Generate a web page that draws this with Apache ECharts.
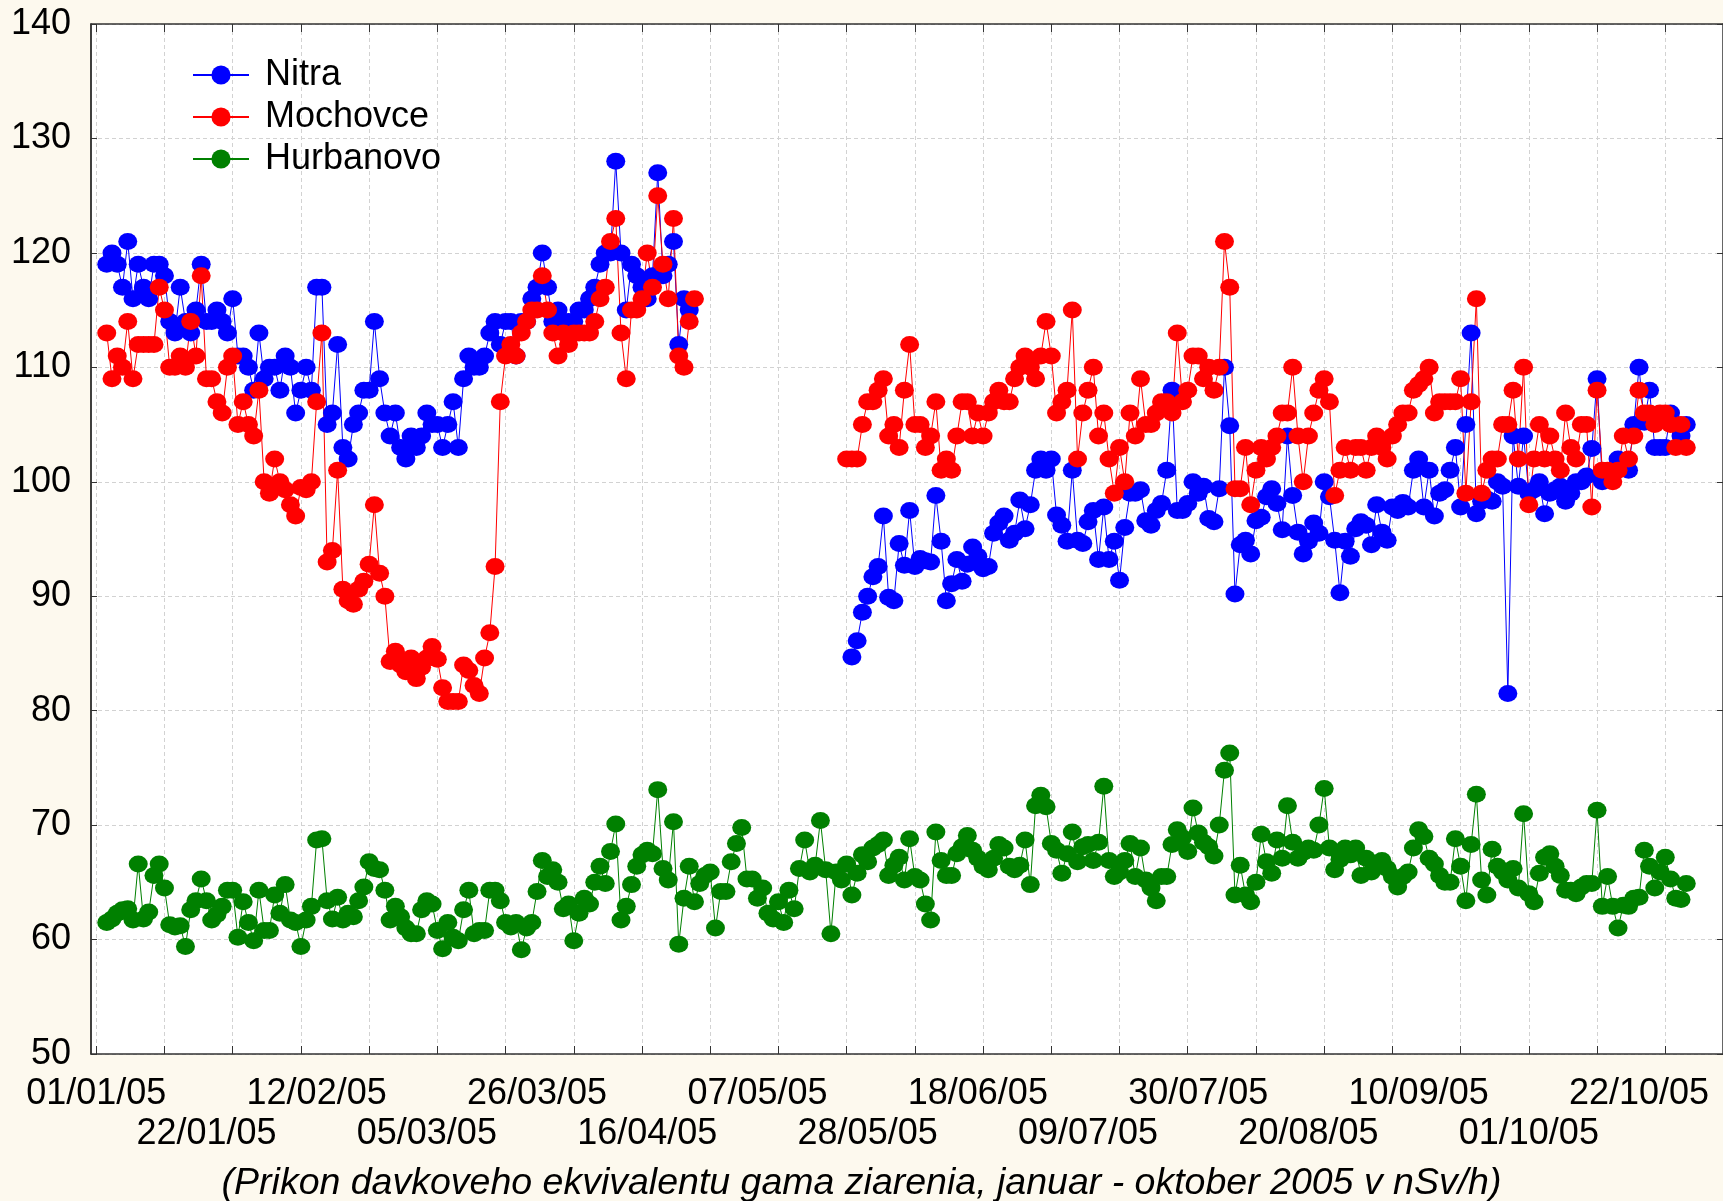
<!DOCTYPE html>
<html>
<head>
<meta charset="utf-8">
<title>Prikon davkoveho ekvivalentu</title>
<script src="https://cdn.jsdelivr.net/npm/echarts@6/dist/echarts.min.js"></script>
<style>
  html, body { margin: 0; padding: 0; background: #fdf9ee; }
  #chart { width: 1723px; height: 1201px; }
</style>
</head>
<body>
<div id="chart"></div>
<script>
// day 0 = 01/01/05, one value per day
const tickLabels = ['01/01/05', '22/01/05', '12/02/05', '05/03/05', '26/03/05', '16/04/05', '07/05/05',
  '28/05/05', '18/06/05', '09/07/05', '30/07/05', '20/08/05', '10/09/05', '01/10/05', '22/10/05']

const nitraStart1 = 2
const nitraPart1 = [
  119, 120, 119, 117, 121, 116, 119, 117, 116, 119,
  119, 118, 114, 113, 117, 114, 113, 115, 119, 114,
  114, 115, 114, 113, 116, 111, 111, 110, 108, 113,
  109, 110, 110, 108, 111, 110, 106, 108, 110, 108,
  117, 117, 105, 106, 112, 103, 102, 105, 106, 108,
  108, 114, 109, 106, 104, 106, 103, 102, 104, 103,
  104, 106, 105, 105, 103, 105, 107, 103, 109, 111,
  110, 110, 111, 113, 114, 112, 114, 114, 111, 114,
  114, 116, 117, 120, 117, 114, 115, 114, 114, 114,
  115, 115, 116, 117, 119, 120, 120, 128, 120, 115,
  119, 118, 117, 116, 118, 127, 118, 119, 121, 112,
  116, 115
]
const nitraStart2 = 144
const nitraPart2 = [
  84.7, 86.1, 88.6, 90, 91.7, 92.6, 97, 89.9, 89.6, 94.6,
  92.7, 97.5, 92.6, 93.3, 93.1, 93, 98.8, 94.8, 89.6, 91.1,
  93.2, 91.3, 92.8, 94.3, 93.5, 92.4, 92.6, 95.5, 96.4, 97,
  94.9, 95.5, 98.4, 95.9, 98, 101, 102, 101, 102, 97.1,
  96.2, 94.8, 101, 94.9, 94.6, 96.5, 97.5, 93.2, 97.8, 93.2,
  94.8, 91.4, 96, 99, 99, 99.3, 96.6, 96.2, 97.5, 98.1,
  101, 108, 97.5, 97.5, 98.1, 100, 99, 99.6, 96.8, 96.5,
  99.4, 110, 104.9, 90.2, 94.5, 94.9, 93.7, 96.6, 96.9, 98.7,
  99.4, 98.1, 95.8, 104, 98.8, 95.6, 93.7, 94.8, 96.4, 95.5,
  100, 98.7, 94.9, 90.3, 94.8, 93.5, 95.9, 96.5, 96.2, 94.5,
  98, 95.6, 94.9, 97.8, 97.5, 98.2, 97.8, 101, 102, 97.8,
  101, 97, 99, 99.3, 101, 103, 97.8, 105, 113, 97.2,
  98.3, 98.5, 98.3, 100, 99.6, 81.5, 104, 99.6, 104, 99,
  99.3, 100, 97.2, 99, 99.3, 99.6, 98.3, 99, 100, 100,
  100.5, 102.9, 109, 100, 100.5, 101, 102, 101.5, 101, 105,
  110, 105.2, 108, 103, 103, 103, 106, 105, 104, 105
]

const mochStart1 = 2
const mochPart1 = [
  113, 109, 111, 110, 114, 109, 112, 112, 112, 112,
  117, 115, 110, 110, 111, 110, 114, 111, 118, 109,
  109, 107, 106, 110, 111, 105, 107, 105, 104, 108,
  100, 99, 102, 100, 99.3, 98, 97, 99.5, 99.3, 100,
  107, 113, 93, 94, 101, 90.6, 89.6, 89.3, 90.6, 91.3,
  92.8, 98, 92, 90, 84.3, 85.2, 84, 83.4, 84.6, 82.8,
  83.8, 84.6, 85.6, 84.5, 82, 80.8, 80.8, 80.8, 84, 83.5,
  82.2, 81.5, 84.6, 86.8, 92.6, 107, 111, 112, 111, 113,
  114, 115, 115, 118, 115, 113, 111, 113, 112, 113,
  113, 113, 113, 114, 116, 117, 121, 123, 113, 109,
  115, 115, 116, 120, 117, 125, 119, 116, 123, 111,
  110, 114, 116
]
const mochStart2 = 143
const mochPart2 = [
  102, 102, 102, 105, 107, 107, 108, 109, 104, 105,
  103, 108, 112, 105, 105, 103, 104, 107, 101, 102,
  101, 104, 107, 107, 104, 106, 104, 106, 107, 108,
  107, 107, 109, 110, 111, 110, 109, 111, 114, 111,
  106, 107, 108, 115, 102, 106, 108, 110, 104, 106,
  102, 99, 103, 100, 106, 104, 109, 105, 105, 106,
  107, 107, 106, 113, 107, 108, 111, 111, 109, 110,
  108, 110, 121, 117, 99.4, 99.4, 103, 98, 101, 103,
  102, 103, 104, 106, 106, 110, 104, 100, 104, 106,
  108, 109, 107, 98.8, 101, 103, 101, 103, 103, 101,
  103, 104, 103, 102, 104, 105, 106, 106, 108, 108.5,
  109, 110, 106, 107, 107, 107, 107, 109, 99, 107,
  116, 99, 101, 102, 102, 105, 105, 108, 102, 110,
  98, 102, 105, 102, 104, 102, 101, 106, 103, 102,
  105, 105, 97.8, 108, 101, 101, 100, 101, 104, 102,
  104, 108, 106, 106, 105, 106, 106, 105, 103, 105,
  103
]

const hurbStart = 2
const hurbValues = [
  61.5, 61.8, 62.3, 62.6, 62.7, 61.7, 66.6, 61.8, 62.4, 65.6,
  66.6, 64.5, 61.3, 61.1, 61.2, 59.4, 62.6, 63.4, 65.3, 63.4,
  61.7, 62.2, 62.9, 64.3, 64.3, 60.2, 63.3, 61.5, 59.9, 64.3,
  60.8, 60.8, 63.9, 62.3, 64.8, 61.7, 61.5, 59.4, 61.7, 62.9,
  68.7, 68.8, 63.4, 61.8, 63.7, 61.7, 62.3, 62, 63.4, 64.6,
  66.8, 66.2, 66.1, 64.3, 61.7, 62.9, 62, 61, 60.5, 60.5,
  62.6, 63.4, 63.1, 60.8, 59.2, 61.5, 60.2, 59.9, 62.6, 64.3,
  60.5, 60.8, 60.8, 64.3, 64.3, 63.4, 61.5, 61.1, 61.5, 59.1,
  61, 61.5, 64.2, 66.9, 65.5, 66.1, 65, 62.7, 63.1, 59.9,
  62.3, 63.6, 63.1, 65, 66.4, 64.9, 67.7, 70.1, 61.7, 62.9,
  64.8, 66.4, 67.4, 67.8, 67.5, 73.1, 66.2, 65.2, 70.3, 59.6,
  63.6, 66.4, 63.3, 64.9, 65.6, 65.9, 61, 64.2, 64.2, 66.8,
  68.4, 69.8, 65.3, 65.3, 63.6, 64.5, 62.3, 61.8, 63.3, 61.5,
  64.3, 62.7, 66.2, 68.7, 65.9, 66.5, 70.4, 66.1, 60.5, 65.9,
  65.2, 66.6, 63.9, 65.8, 67.4, 66.8, 68, 68.3, 68.7, 65.6,
  66.5, 67.2, 65.2, 68.8, 65.5, 65.2, 63.1, 61.7, 69.4, 66.9,
  65.6, 65.6, 67.5, 68.1, 69.1, 67.8, 67.1, 66.4, 66.1, 67.1,
  68.3, 68, 66.4, 66.1, 66.5, 68.7, 64.8, 71.7, 72.6, 71.6,
  68.4, 67.8, 65.8, 67.5, 69.4, 66.8, 68.1, 68.3, 66.9, 68.5,
  73.4, 66.9, 65.5, 65.9, 66.9, 68.4, 65.5, 68, 65.2, 64.5,
  63.4, 65.5, 65.5, 68.3, 69.6, 68.9, 67.7, 71.5, 69.3, 68.5,
  68.1, 67.3, 70, 74.8, 76.3, 63.9, 66.5, 63.9, 63.3, 65,
  69.2, 66.8, 65.8, 68.7, 67.1, 71.7, 68.5, 67.1, 67.6, 68,
  67.8, 70, 73.2, 68, 66.1, 67, 68, 67.4, 68, 65.6,
  67.1, 65.9, 66.5, 66.9, 66.2, 65.5, 64.6, 65.5, 65.9, 68,
  69.6, 69, 67.1, 66.6, 65.6, 65, 65, 68.8, 66.4, 63.4,
  68.3, 72.7, 65.2, 63.9, 67.9, 66.4, 65.9, 65.2, 66.2, 64.5,
  71, 64, 63.3, 65.8, 67.2, 67.5, 66.4, 65.6, 64.3, 64.3,
  64, 64.6, 64.9, 64.9, 71.3, 62.9, 65.5, 62.9, 61, 63,
  62.9, 63.6, 63.7, 67.8, 66.4, 64.5, 65.9, 67.2, 65.3, 63.6,
  63.5, 64.9
]

const firstDay = -1
const lastDay = 310
const days = []
for (let d = firstDay; d <= lastDay; d++) days.push(String(d))

// put pieces on the day axis, gaps stay null
function place(parts) {
  const out = days.map(() => null)
  parts.forEach(([start, values]) => {
    values.forEach((v, i) => { out[start + i - firstDay] = v })
  })
  return out
}

const font = '"Liberation Sans", Arial, sans-serif'
const gridStep = 13
const isGridDay = (i, v) => +v >= 0 && +v % gridStep === 0
// labels every 21 days, alternating on two rows
const labelRow = (row) => (i, v) => {
  const d = +v
  if (d < 0 || d % 21 !== 0) return false
  const k = d / 21
  return k < tickLabels.length && k % 2 === row
}
const labelText = (value) => tickLabels[+value / 21]

function lineSeries(name, color, data) {
  return {
    name: name,
    type: 'line',
    xAxisIndex: 0,
    yAxisIndex: 0,
    data: data,
    symbol: 'circle',
    symbolSize: [19, 17],
    showAllSymbol: true,
    connectNulls: false,
    itemStyle: { color: color },
    lineStyle: { color: color, width: 1 },
    emphasis: { disabled: true },
    animation: false
  }
}

const chart = echarts.init(document.getElementById('chart'))
chart.setOption({
  backgroundColor: '#fdf9ee',
  animation: false,
  title: {
    text: '(Prikon davkoveho ekvivalentu gama ziarenia, januar - oktober 2005 v nSv/h)',
    left: 'center',
    top: 1160,
    textStyle: { fontFamily: font, fontSize: 37.5, fontStyle: 'italic', fontWeight: 'normal', color: '#000' }
  },
  legend: {
    orient: 'vertical',
    left: 192,
    top: 54,
    padding: 0,
    itemWidth: 56,
    itemHeight: 24,
    itemGap: 0,
    textStyle: { fontFamily: font, fontSize: 36, lineHeight: 42, color: '#000', padding: [0, 0, 0, 11] },
    data: ['Nitra', 'Mochovce', 'Hurbanovo']
  },
  grid: {
    left: 91, right: 0, top: 24, bottom: 147,
    show: true, backgroundColor: '#fff', borderWidth: 0,
    outerBoundsMode: 'none'
  },
  xAxis: [
    {
      type: 'category',
      data: days,
      boundaryGap: false,
      position: 'bottom',
      axisLine: { lineStyle: { color: '#333', width: 1.5 } },
      axisTick: { inside: true, length: 8, interval: isGridDay, lineStyle: { color: '#333' } },
      axisLabel: {
        interval: labelRow(0),
        margin: 22,
        fontFamily: font,
        fontSize: 36,
        color: '#000',
        formatter: labelText
      },
      splitLine: { show: true, interval: isGridDay, lineStyle: { color: '#d2d2d2', type: [4, 3], width: 1 } }
    },
    {
      type: 'category',
      data: days,
      boundaryGap: false,
      position: 'top',
      axisLine: { lineStyle: { color: '#333', width: 1.5 } },
      axisTick: { inside: true, length: 8, interval: isGridDay, lineStyle: { color: '#333' } },
      axisLabel: { show: false },
      splitLine: { show: false }
    },
    {
      type: 'category',
      data: days,
      boundaryGap: false,
      position: 'bottom',
      axisLine: { show: false },
      axisTick: { show: false },
      axisLabel: {
        interval: labelRow(1),
        margin: 62,
        fontFamily: font,
        fontSize: 36,
        color: '#000',
        formatter: labelText
      },
      splitLine: { show: false }
    }
  ],
  yAxis: [
    {
      type: 'value',
      min: 50,
      max: 140,
      interval: 10,
      position: 'left',
      axisLine: { show: true, lineStyle: { color: '#000', width: 1.5 } },
      axisTick: { show: true, inside: true, length: 6, lineStyle: { color: '#333' } },
      axisLabel: { margin: 20, fontFamily: font, fontSize: 36, color: '#000' },
      splitLine: { show: true, lineStyle: { color: '#d2d2d2', type: [4, 3], width: 1 } }
    },
    {
      type: 'value',
      min: 50,
      max: 140,
      interval: 10,
      position: 'right',
      axisLine: { show: true, lineStyle: { color: '#333', width: 1.5 } },
      axisTick: { show: true, inside: true, length: 6, lineStyle: { color: '#333' } },
      axisLabel: { show: false },
      splitLine: { show: false }
    }
  ],
  series: [
    lineSeries('Nitra', '#0000ff', place([[nitraStart1, nitraPart1], [nitraStart2, nitraPart2]])),
    lineSeries('Mochovce', '#ff0000', place([[mochStart1, mochPart1], [mochStart2, mochPart2]])),
    lineSeries('Hurbanovo', '#008000', place([[hurbStart, hurbValues]]))
  ]
})
</script>
</body>
</html>
